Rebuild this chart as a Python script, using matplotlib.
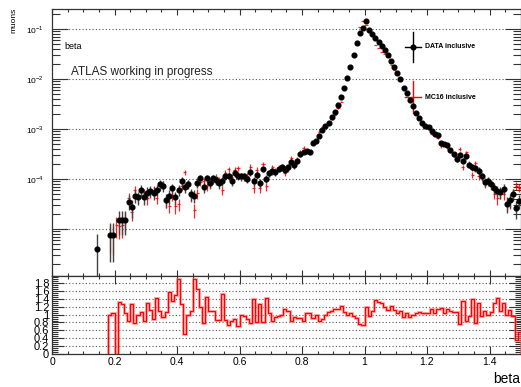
import matplotlib
matplotlib.use("Agg")
import matplotlib.pyplot as plt
import numpy as np
from matplotlib.ticker import (
    FixedFormatter, FixedLocator, LogLocator, MultipleLocator, NullFormatter
)

plt.rcParams["font.family"] = ["Liberation Sans", "DejaVu Sans"]
plt.rcParams["mathtext.fontset"] = "custom"
plt.rcParams["mathtext.rm"] = "Liberation Sans"

nan = np.nan

# beta binning: 150 bins of width 0.01 between 0 and 1.5
n_bins = 150
beta_min, beta_max = 0.0, 1.5

# normalised data counts per bin (0 = empty bin)
data_muons = [
    0, 0, 0, 0, 0, 0, 0, 0, 0, 0,
    0, 0, 0, 0, 3.9e-6, 0, 0, 0, 7.6e-6, 7.6e-6,
    0, 1.55e-5, 1.55e-5, 1.55e-5, 3.52e-5, 2.71e-5, 4.65e-5, 4.30e-5, 6.03e-5, 4.30e-5,
    5.33e-5, 5.85e-5, 5.33e-5, 6.03e-5, 7.82e-5, 7.24e-5, 3.80e-5, 4.57e-5, 6.50e-5, 4.30e-5,
    6.03e-5, 9.27e-5, 6.81e-5, 7.94e-5, 5.01e-5, 4.65e-5, 8.45e-5, 1.03e-4, 7.03e-5, 1.03e-4,
    8.45e-5, 1.03e-4, 9.55e-5, 8.18e-5, 9.12e-5, 1.15e-4, 1.15e-4, 9.27e-5, 1.34e-4, 1.15e-4,
    1.13e-4, 1.13e-4, 1.02e-4, 1.38e-4, 9.3e-5, 1.22e-4, 8.3e-5, 1.61e-4, 1.02e-4, 1.32e-4,
    1.42e-4, 1.38e-4, 1.61e-4, 1.71e-4, 1.54e-4, 1.71e-4, 2.19e-4, 1.88e-4, 2.33e-4, 3.16e-4,
    3.47e-4, 3.69e-4, 3.47e-4, 5.25e-4, 5.67e-4, 7.36e-4, 9.7e-4, 1.17e-3, 1.32e-3, 1.71e-3,
    2.19e-3, 2.97e-3, 4.30e-3, 6.61e-3, 1.05e-2, 1.71e-2, 2.97e-2, 5.25e-2, 8.32e-2, 0.105,
    0.142, 0.097, 0.0794, 0.0661, 0.055, 0.045, 0.0386, 0.0307, 0.0233, 0.0171,
    0.0132, 0.0100, 6.61e-3, 5.25e-3, 3.86e-3, 2.84e-3, 2.09e-3, 1.66e-3, 1.32e-3, 1.13e-3,
    1.08e-3, 8.98e-4, 7.94e-4, 7.47e-4, 5.25e-4, 5.01e-4, 4.86e-4, 3.86e-4, 3.16e-4, 2.55e-4,
    3.07e-4, 2.33e-4, 2.84e-4, 1.94e-4, 1.71e-4, 1.66e-4, 1.47e-4, 1.13e-4, 8.7e-5, 8.98e-5,
    7.94e-5, 6.61e-5, 5.85e-5, 5.5e-5, 6.41e-5, 3.16e-5, 3.86e-5, 5.01e-5, 2.63e-5, 3.69e-5,
]

# data / MC16 per bin (nan = not drawn)
data_over_mc = [
    nan, nan, nan, nan, nan, nan, nan, nan, nan, nan,
    nan, nan, nan, nan, nan, nan, nan, nan, 0.98, 1.03,
    0.0, 1.32, 1.26, 1.04, 0.85, 1.26, 0.78, 1.0, 1.07, 0.83,
    1.3, 1.12, 0.9, 1.42, 1.1, 0.93, 1.06, 1.57, 1.35, 1.5,
    1.9, 1.28, 0.5, 1.0, 1.1, 1.9, 1.64, 1.2, 0.78, 1.45,
    1.08, 1.08, 0.87, 0.87, 1.53, 0.87, 0.74, 0.83, 0.89, 0.7,
    0.98, 0.96, 0.88, 0.78, 1.4, 0.8, 1.27, 0.8, 1.43, 1.05,
    0.83, 0.95, 0.97, 1.0, 1.15, 1.1, 0.85, 0.93, 0.91, 0.91,
    0.83, 1.04, 1.04, 0.91, 1.0, 0.83, 0.9, 1.0, 1.06, 1.09,
    1.13, 1.13, 1.23, 1.06, 1.0, 1.04, 0.96, 0.91, 0.77, 0.74,
    1.2, 0.97, 1.09, 1.38, 1.32, 1.3, 1.2, 1.11, 1.21, 1.11,
    1.03, 1.09, 0.94, 1.04, 0.94, 1.0, 1.04, 1.06, 1.04, 1.03,
    1.04, 1.14, 1.03, 1.13, 1.17, 1.03, 1.13, 1.09, 1.06, 1.06,
    0.77, 1.34, 0.83, 0.96, 1.4, 0.79, 1.3, 0.96, 1.09, 1.0,
    1.06, 1.3, 1.43, 1.09, 1.3, 1.0, 1.11, 0.96, 0.36, 0.55,
]

# MC content of the bin that has no data entry
mc_where_no_data = 1.2e-5
# weight of a single muon after normalisation
unit_weight = 3.9e-6

y_ticks = [1e-5, 1e-4, 1e-3, 1e-2, 1e-1]
y_tick_labels = ["", r"$10^{-4}$", r"$10^{-3}$", r"$10^{-2}$", r"$10^{-1}$"]
ratio_ticks = [0, 0.2, 0.4, 0.6, 0.8, 1.0, 1.2, 1.4, 1.6, 1.8]
ratio_tick_labels = ["0", "0.2", "0.4", "0.6", "0.8", "1", "1.2", "1.4", "1.6", "1.8"]
beta_ticks = [0, 0.2, 0.4, 0.6, 0.8, 1.0, 1.2, 1.4]
beta_tick_labels = ["0", "0.2", "0.4", "0.6", "0.8", "1", "1.2", "1.4"]

edges = np.linspace(beta_min, beta_max, n_bins + 1)
centers = 0.5 * (edges[:-1] + edges[1:])
half_width = 0.5 * (edges[1] - edges[0])

data = np.asarray(data_muons, dtype=float)
ratio = np.asarray(data_over_mc, dtype=float)

has_data = data > 0
mc = np.full(n_bins, nan)
sel = has_data & (ratio > 0)
mc[sel] = data[sel] / ratio[sel]
mc[ratio == 0] = mc_where_no_data

y_lo, y_hi = 1.15e-6, 0.251

# poisson errors, lower bars run down to the frame when they cross zero
data_err = np.sqrt(data * unit_weight)
data_err_lo = np.where(data - data_err > y_lo, data_err, data - 1e-8)
mc_err = 0.8 * np.sqrt(np.nan_to_num(mc) * unit_weight)
mc_err_lo = np.where(mc - mc_err > y_lo, mc_err, mc - 1e-8)

W, H = 521, 387
fig = plt.figure(figsize=(W / 100, H / 100), dpi=100)

left, right = 52 / W, 520.75 / W
ax = fig.add_axes([left, 1 - 276 / H, right - left, 267 / H])
ax_r = fig.add_axes([left, 1 - 354 / H, right - left, 78 / H])

frame_color = "#333333"

# ---- upper pad
mc_ok = ~np.isnan(mc)
ax.errorbar(
    centers[mc_ok], mc[mc_ok],
    xerr=half_width, yerr=[mc_err_lo[mc_ok], mc_err[mc_ok]],
    fmt="none", ecolor="red", elinewidth=0.9, alpha=0.85, zorder=2
)
ax.errorbar(
    centers[has_data], data[has_data],
    xerr=half_width, yerr=[data_err_lo[has_data], data_err[has_data]],
    fmt="o", color="black", ms=3.4, ecolor="#444444", elinewidth=1.0,
    zorder=3
)

ax.set_yscale("log")
ax.set_xlim(beta_min, beta_max)
ax.set_ylim(y_lo, y_hi)

ax.yaxis.set_major_locator(FixedLocator(y_ticks))
ax.yaxis.set_major_formatter(FixedFormatter(y_tick_labels))
ax.yaxis.set_minor_locator(LogLocator(base=10, subs=np.arange(2, 10), numticks=20))
ax.yaxis.set_minor_formatter(NullFormatter())
ax.xaxis.set_major_locator(MultipleLocator(0.2))
ax.xaxis.set_minor_locator(MultipleLocator(0.05))
ax.xaxis.set_major_formatter(NullFormatter())

ax.tick_params(axis="y", which="major", direction="in", length=11.5,
               width=0.8, labelsize=6, pad=6, left=True, right=True,
               colors=frame_color, labelcolor="black")
ax.tick_params(axis="y", which="minor", direction="in", length=5.8,
               width=0.8, left=True, right=True, colors=frame_color)
ax.tick_params(axis="x", which="major", direction="in", length=4.5,
               width=0.8, top=True, bottom=True, colors=frame_color)
ax.tick_params(axis="x", which="minor", direction="in", length=2.2,
               width=0.8, top=True, bottom=True, colors=frame_color)
ax.yaxis.grid(True, which="major", linestyle=(0, (1, 2)), color="#555555",
              linewidth=0.8)
for s in ax.spines.values():
    s.set_color(frame_color)
    s.set_linewidth(0.9)

ax.text(0.026, 0.858, "beta", transform=ax.transAxes, fontsize=6.5,
        ha="left", va="center")
ax.text(0.041, 0.764, "ATLAS working in progress", transform=ax.transAxes,
        fontsize=8.5, ha="left", va="center", color="#222222")

# legend entries
leg_x, leg_dx, leg_text_x = 0.770, 0.017, 0.796
for y, dy, col, label in [
    (0.858, 0.056, "black", "DATA inclusive"),
    (0.670, 0.060, "red", "MC16 inclusive"),
]:
    ax.plot([leg_x - leg_dx, leg_x + leg_dx], [y, y], color=col, lw=1,
            transform=ax.transAxes, clip_on=False)
    ax.plot([leg_x, leg_x], [y - dy, y + dy], color=col, lw=1,
            transform=ax.transAxes, clip_on=False)
    if col == "black":
        ax.plot([leg_x], [y], "o", color="black", ms=3.4,
                transform=ax.transAxes)
    ax.text(leg_text_x, y, label, transform=ax.transAxes, fontsize=5,
            fontweight="bold", ha="left", va="center")

fig.text(14 / W, 1 - 8 / H, "muons", rotation=90, fontsize=6,
         ha="center", va="top")

# ---- ratio pad
r_first = np.argmax(~np.isnan(ratio))
r_edges = edges[r_first:]
r_vals = ratio[r_first:]
ax_r.stairs(r_vals, r_edges, baseline=0, color="#ff8080", lw=2.2,
            alpha=0.6, zorder=2)
ax_r.stairs(r_vals, r_edges, baseline=0, color="red", lw=0.9, zorder=3)

ax_r.set_xlim(beta_min, beta_max)
ax_r.set_ylim(0, 1.98)
ax_r.yaxis.set_major_locator(FixedLocator(ratio_ticks))
ax_r.yaxis.set_major_formatter(FixedFormatter(ratio_tick_labels))
ax_r.yaxis.set_minor_locator(MultipleLocator(0.05))
ax_r.xaxis.set_major_locator(FixedLocator(beta_ticks))
ax_r.xaxis.set_major_formatter(FixedFormatter(beta_tick_labels))
ax_r.xaxis.set_minor_locator(MultipleLocator(0.05))

ax_r.tick_params(axis="y", which="major", direction="in", length=8.5,
                 width=0.8, labelsize=8, pad=2, left=True, right=True,
                 colors=frame_color, labelcolor="black")
ax_r.tick_params(axis="y", which="minor", direction="in", length=4.3,
                 width=0.8, left=True, right=True, colors=frame_color)
ax_r.tick_params(axis="x", which="major", direction="in", length=5.5,
                 width=0.8, labelsize=7.5, pad=2, top=True, bottom=True,
                 colors=frame_color, labelcolor="black")
ax_r.tick_params(axis="x", which="minor", direction="in", length=2.5,
                 width=0.8, top=True, bottom=True, colors=frame_color)
ax_r.yaxis.grid(True, which="major", linestyle=(0, (1, 2)), color="#555555",
                linewidth=0.8)
for s in ax_r.spines.values():
    s.set_color(frame_color)
    s.set_linewidth(0.9)

fig.text(520 / W, 1 - 379 / H, "beta", fontsize=10, ha="right", va="center")

fig.savefig("out.png", dpi=100)
